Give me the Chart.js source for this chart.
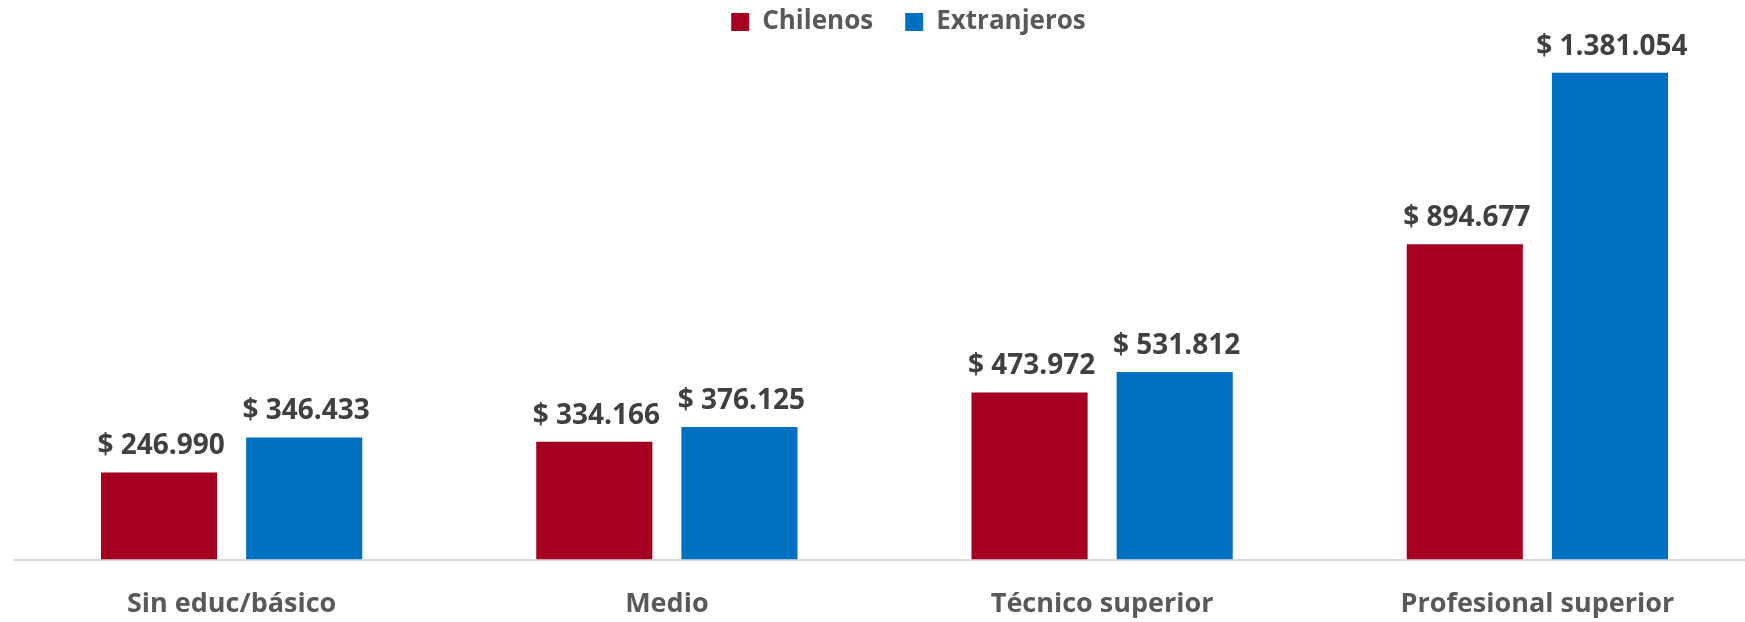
<!DOCTYPE html>
<html>
<head>
<meta charset="utf-8">
<script src="https://cdn.jsdelivr.net/npm/chart.js@4"></script>
<style>
  html, body { margin: 0; background: #ffffff; overflow: hidden; }
  #wrap { width: 1745px; height: 622px; overflow: hidden; }
</style>
</head>
<body>
<div id="wrap"><canvas id="myChart" width="1755" height="622"></canvas></div>
<script>
var categories = ['Sin educ/básico', 'Medio', 'Técnico superior', 'Profesional superior'];
var chilenos = [246990, 334166, 473972, 894677];
var extranjeros = [346433, 376125, 531812, 1381054];

function fmt(v) {                      // 1381054 -> "$ 1.381.054"
    return '$ ' + v.toString().replace(/\B(?=(\d{3})+(?!\d))/g, '.');
}

// draw value labels above the bars
const barLabels = {
    id: 'barLabels',
    afterDatasetsDraw(chart) {
        const ctx = chart.ctx;
        ctx.save();
        ctx.font = 'bold 28px "Open Sans"';
        ctx.fillStyle = '#404040';
        ctx.textAlign = 'center';
        ctx.textBaseline = 'bottom';
        chart.data.datasets.forEach(function (ds, i) {
            chart.getDatasetMeta(i).data.forEach(function (bar, j) {
                ctx.fillText(fmt(ds.data[j]), bar.x + 2, bar.y - 12);
            });
        });
        ctx.restore();
    }
};

// legend: wider item gap, pulled up and a bit to the right
const legendGap = {
    id: 'legendGap',
    beforeInit(chart) {
        const fit = chart.legend.fit;
        chart.legend.fit = function () {
            fit.bind(chart.legend)();
            this.height -= 2;
        };
    },
    afterLayout(chart) {
        chart.legend.left += 48;
        chart.legend.top -= 23;
    }
};

let myChart = document.getElementById("myChart").getContext('2d');

const barChart = new Chart(myChart, {
    type: "bar",
    data: {
        labels: categories,
        datasets: [{
            label: 'Chilenos',
            data: chilenos,
            backgroundColor: "#A50021",
            categoryPercentage: 0.667,
            barPercentage: 0.8
        }, {
            label: 'Extranjeros',
            data: extranjeros,
            backgroundColor: "#0070C0",
            categoryPercentage: 0.667,
            barPercentage: 0.8
        }]
    },
    options: {
        responsive: false,
        animation: false,
        layout: {
            padding: { left: 14, right: 0, top: 0, bottom: -28 }
        },
        scales: {
            x: {
                grid: { display: false, drawTicks: false },
                border: { color: '#d9d9d9', width: 2 },
                ticks: {
                    color: '#595959',
                    font: { family: 'Open Sans', size: 27, weight: 'bold' },
                    padding: 29
                }
            },
            y: {
                display: false,
                beginAtZero: true,
                max: 1400000
            }
        },
        plugins: {
            legend: {
                position: 'top',
                labels: {
                    color: '#595959',
                    font: { family: 'Open Sans', size: 26, weight: 'bold' },
                    boxWidth: 18,
                    boxHeight: 18,
                    padding: 32
                }
            },
            tooltip: { enabled: false }
        }
    },
    plugins: [barLabels, legendGap]
});
</script>
</body>
</html>
